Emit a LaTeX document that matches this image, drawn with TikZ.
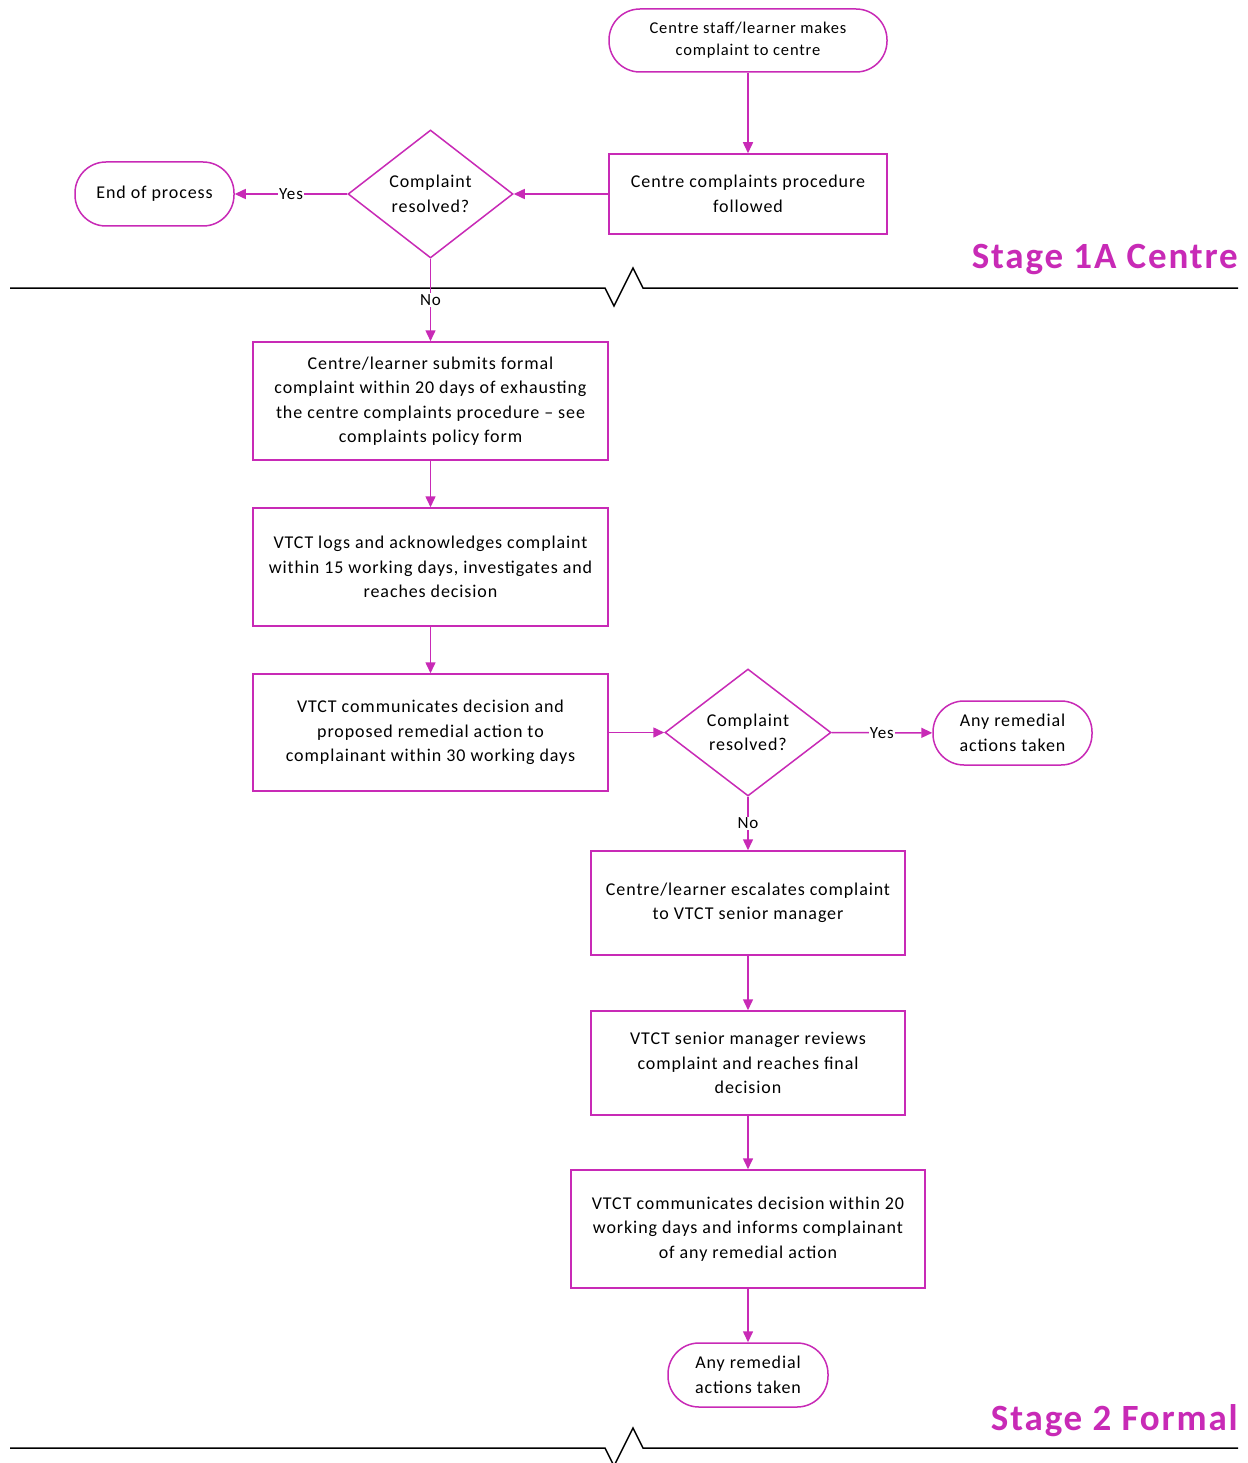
\documentclass[tikz,border=0pt]{standalone}
\usepackage{fontspec}
\setmainfont{Carlito}[LetterSpace=5]
\usetikzlibrary{shapes.geometric,arrows.meta}
\definecolor{mag}{RGB}{200,42,182}
\tikzset{
  x=1pt,y=-1pt,
  every node/.style={font=\fontsize{18}{24.5}\selectfont, align=center, inner sep=0pt},
  term/.style={draw=mag, line width=1.5pt, rounded corners=31pt},
  procbox/.style={draw=mag, line width=1.5pt, rectangle},
  decision/.style={draw=mag, line width=1.5pt, diamond},
  conn/.style={draw=mag, line width=1.5pt, -{Triangle[length=11pt,width=10pt]}},
  lab/.style={fill=white, inner sep=1pt, font=\fontsize{17}{20}\selectfont},
  stage/.style={text=mag, font=\fontsize{37}{40}\selectfont\bfseries, anchor=base east},
  brk/.style={draw=black, line width=1.5pt}
}
\begin{document}
\begin{tikzpicture}
\useasboundingbox (0,0) rectangle (1247,1463);
\fill[white] (0,0) rectangle (1247,1463);

% break lines
\draw[brk] (10,288) -- (605,288) -- (614,306) -- (633,268) -- (643,288) -- (1238,288);
\draw[brk] (10,1448) -- (605,1448) -- (614,1466) -- (633,1428) -- (643,1448) -- (1238,1448);

% nodes
\node[term, minimum width=278pt, minimum height=63pt, font=\fontsize{16.5}{22}\selectfont] (start) at (748,40.5) {Centre staff/learner makes\\complaint to centre};
\node[procbox, minimum width=278pt, minimum height=80pt] (proc) at (748,194) {Centre complaints procedure\\followed};
\node[decision, minimum width=165pt, minimum height=128pt] (d1) at (430.5,194) {Complaint\\resolved?};
\node[term, minimum width=159pt, minimum height=64pt] (endp) at (154.5,194) {End of process};

\node[procbox, minimum width=355pt, minimum height=118pt] (b2) at (430.5,401) {Centre/learner submits formal\\complaint within 20 days of exhausting\\the centre complaints procedure -- see\\complaints policy form};
\node[procbox, minimum width=355pt, minimum height=118pt] (b3) at (430.5,567) {VTCT logs and acknowledges complaint\\within 15 working days, investigates and\\reaches decision};
\node[procbox, minimum width=355pt, minimum height=117pt] (b4) at (430.5,732.5) {VTCT communicates decision and\\proposed remedial action to\\complainant within 30 working days};
\node[decision, minimum width=166pt, minimum height=127pt] (d2) at (748,732.5) {Complaint\\resolved?};
\node[term, minimum width=159pt, minimum height=64pt] (rem1) at (1012.5,733) {Any remedial\\actions taken};

\node[procbox, minimum width=314pt, minimum height=104pt] (b5) at (748,903) {Centre/learner escalates complaint\\to VTCT senior manager};
\node[procbox, minimum width=314pt, minimum height=104pt] (b6) at (748,1063) {VTCT senior manager reviews\\complaint and reaches final\\decision};
\node[procbox, minimum width=354pt, minimum height=118pt] (b7) at (748,1229) {VTCT communicates decision within 20\\working days and informs complainant\\of any remedial action};
\node[term, minimum width=160pt, minimum height=64pt] (rem2) at (748,1375) {Any remedial\\actions taken};

% stage labels
\node[stage] (s1) at (1238,268) {Stage 1A Centre};
\node[stage] (s2) at (1238,1430) {Stage 2 Formal};

% connectors
\draw[conn] (start) -- (proc);
\draw[conn] (proc) -- (d1);
\draw[conn] (d1) -- node[lab] (yes1) {Yes} (endp);
\draw[conn] (d1) -- node[lab] (no1) {No} (b2);
\draw[conn] (b2) -- (b3);
\draw[conn] (b3) -- (b4);
\draw[conn] (b4) -- (d2);
\draw[conn] (d2) -- node[lab] (yes2) {Yes} (rem1);
\draw[conn] (d2) -- node[lab] (no2) {No} (b5);
\draw[conn] (b5) -- (b6);
\draw[conn] (b6) -- (b7);
\draw[conn] (b7) -- (rem2);
\end{tikzpicture}
\end{document}
